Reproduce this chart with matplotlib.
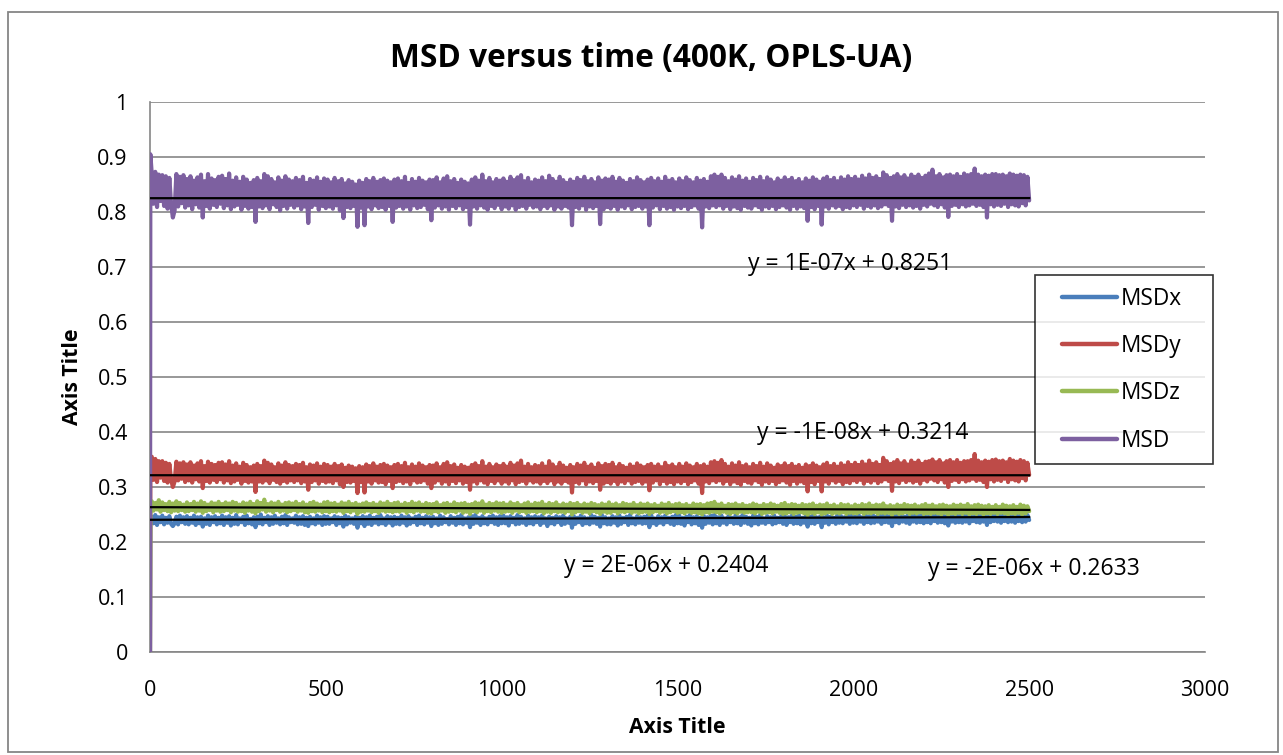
import numpy as np
import matplotlib
matplotlib.use("Agg")
import matplotlib.pyplot as plt
from matplotlib.patches import Rectangle
from matplotlib.lines import Line2D
from matplotlib.legend_handler import HandlerLine2D

plt.rcParams['font.family'] = ['Open Sans', 'DejaVu Sans']

# sampling times: start, first step, then every 5 units up to 2500
time = [0, 1] + list(range(5, 2501, 5))

msd_x = [0.0, 0.245,
    0.246, 0.234, 0.249, 0.231, 0.245, 0.236, 0.248, 0.232, 0.244, 0.235, 0.247, 0.233, 0.229, 0.234, 0.246, 0.232, 0.248, 0.236, 0.245, 0.233,
    0.247, 0.232, 0.244, 0.235, 0.248, 0.231, 0.245, 0.234, 0.246, 0.228, 0.243, 0.233, 0.248, 0.231, 0.245, 0.236, 0.247, 0.232, 0.244, 0.234,
    0.248, 0.231, 0.245, 0.235, 0.247, 0.230, 0.244, 0.233, 0.249, 0.232, 0.243, 0.236, 0.246, 0.231, 0.248, 0.234, 0.242, 0.232, 0.245, 0.227,
    0.246, 0.234, 0.250, 0.232, 0.244, 0.236, 0.247, 0.231, 0.245, 0.233, 0.248, 0.235, 0.243, 0.232, 0.246, 0.234, 0.249, 0.231, 0.245, 0.236,
    0.243, 0.235, 0.248, 0.232, 0.245, 0.233, 0.247, 0.231, 0.244, 0.229, 0.246, 0.234, 0.243, 0.232, 0.248, 0.235, 0.245, 0.231, 0.247, 0.233,
    0.246, 0.233, 0.243, 0.236, 0.247, 0.231, 0.245, 0.234, 0.244, 0.228, 0.248, 0.232, 0.245, 0.235, 0.243, 0.233, 0.246, 0.226, 0.244, 0.234,
    0.247, 0.229, 0.245, 0.233, 0.248, 0.231, 0.244, 0.235, 0.246, 0.232, 0.249, 0.234, 0.243, 0.231, 0.247, 0.235, 0.245, 0.230, 0.246, 0.233,
    0.244, 0.232, 0.248, 0.235, 0.245, 0.230, 0.247, 0.233, 0.243, 0.236, 0.246, 0.231, 0.248, 0.234, 0.244, 0.232, 0.247, 0.235, 0.245, 0.229,
    0.246, 0.234, 0.243, 0.231, 0.248, 0.233, 0.245, 0.236, 0.242, 0.232, 0.247, 0.235, 0.244, 0.231, 0.246, 0.234, 0.249, 0.232, 0.243, 0.235,
    0.245, 0.227, 0.247, 0.233, 0.249, 0.235, 0.244, 0.231, 0.247, 0.234, 0.243, 0.232, 0.246, 0.236, 0.248, 0.233, 0.245, 0.231, 0.247, 0.234,
    0.248, 0.234, 0.245, 0.230, 0.247, 0.236, 0.244, 0.232, 0.249, 0.233, 0.246, 0.235, 0.243, 0.231, 0.248, 0.234, 0.245, 0.232, 0.247, 0.236,
    0.245, 0.231, 0.248, 0.235, 0.243, 0.229, 0.246, 0.234, 0.244, 0.232, 0.247, 0.236, 0.245, 0.231, 0.248, 0.233, 0.243, 0.235, 0.246, 0.226,
    0.247, 0.233, 0.244, 0.236, 0.248, 0.231, 0.245, 0.234, 0.243, 0.232, 0.249, 0.235, 0.246, 0.233, 0.244, 0.228, 0.249, 0.234, 0.245, 0.232,
    0.243, 0.232, 0.247, 0.235, 0.245, 0.230, 0.248, 0.233, 0.244, 0.236, 0.246, 0.231, 0.249, 0.234, 0.243, 0.232, 0.247, 0.235, 0.245, 0.233,
    0.246, 0.234, 0.248, 0.227, 0.249, 0.234, 0.243, 0.231, 0.247, 0.235, 0.245, 0.232, 0.248, 0.236, 0.244, 0.233, 0.246, 0.231, 0.249, 0.234,
    0.248, 0.233, 0.244, 0.230, 0.246, 0.236, 0.249, 0.232, 0.245, 0.234, 0.247, 0.231, 0.244, 0.226, 0.247, 0.233, 0.245, 0.235, 0.248, 0.232,
    0.249, 0.234, 0.245, 0.231, 0.248, 0.235, 0.243, 0.232, 0.247, 0.236, 0.244, 0.233, 0.248, 0.234, 0.245, 0.231, 0.249, 0.235, 0.246, 0.233,
    0.244, 0.230, 0.248, 0.234, 0.246, 0.232, 0.249, 0.235, 0.243, 0.233, 0.247, 0.236, 0.245, 0.232, 0.248, 0.234, 0.244, 0.236, 0.247, 0.233,
    0.247, 0.231, 0.245, 0.236, 0.248, 0.233, 0.246, 0.234, 0.249, 0.232, 0.244, 0.235, 0.247, 0.228, 0.246, 0.234, 0.249, 0.233, 0.245, 0.236,
    0.246, 0.227, 0.245, 0.235, 0.248, 0.232, 0.246, 0.236, 0.244, 0.233, 0.249, 0.235, 0.247, 0.234, 0.245, 0.237, 0.248, 0.233, 0.250, 0.235,
    0.246, 0.234, 0.249, 0.237, 0.245, 0.233, 0.248, 0.236, 0.247, 0.234, 0.250, 0.235, 0.246, 0.237, 0.249, 0.233, 0.251, 0.236, 0.248, 0.235,
    0.247, 0.229, 0.250, 0.236, 0.248, 0.234, 0.251, 0.237, 0.246, 0.235, 0.249, 0.233, 0.248, 0.237, 0.250, 0.235, 0.247, 0.236, 0.251, 0.234,
    0.249, 0.236, 0.247, 0.234, 0.250, 0.238, 0.248, 0.235, 0.251, 0.236, 0.249, 0.234, 0.247, 0.230, 0.250, 0.237, 0.248, 0.235, 0.252, 0.236,
    0.250, 0.235, 0.249, 0.237, 0.251, 0.234, 0.248, 0.238, 0.250, 0.236, 0.252, 0.235, 0.249, 0.237, 0.250, 0.231, 0.251, 0.236, 0.249, 0.238,
    0.252, 0.237, 0.249, 0.235, 0.251, 0.238, 0.250, 0.236, 0.252, 0.237, 0.249, 0.235, 0.251, 0.238, 0.250, 0.236, 0.252, 0.237, 0.249, 0.240]

msd_y = [0.0, 0.348,
    0.355, 0.313, 0.351, 0.309, 0.347, 0.317, 0.347, 0.311, 0.344, 0.308, 0.342, 0.314, 0.300, 0.310, 0.346, 0.312, 0.343, 0.315, 0.345, 0.309,
    0.341, 0.312, 0.345, 0.308, 0.339, 0.314, 0.343, 0.310, 0.347, 0.298, 0.338, 0.311, 0.346, 0.308, 0.342, 0.313, 0.340, 0.309, 0.344, 0.314,
    0.345, 0.308, 0.341, 0.312, 0.347, 0.307, 0.339, 0.310, 0.343, 0.313, 0.337, 0.306, 0.344, 0.311, 0.340, 0.308, 0.336, 0.310, 0.339, 0.291,
    0.342, 0.310, 0.338, 0.308, 0.348, 0.312, 0.344, 0.307, 0.341, 0.313, 0.336, 0.309, 0.343, 0.306, 0.339, 0.311, 0.345, 0.308, 0.340, 0.312,
    0.338, 0.309, 0.342, 0.312, 0.340, 0.307, 0.344, 0.310, 0.336, 0.295, 0.341, 0.309, 0.339, 0.312, 0.343, 0.306, 0.337, 0.311, 0.342, 0.308,
    0.340, 0.310, 0.337, 0.307, 0.342, 0.312, 0.338, 0.305, 0.341, 0.300, 0.335, 0.309, 0.339, 0.308, 0.337, 0.311, 0.334, 0.289, 0.338, 0.309,
    0.336, 0.290, 0.341, 0.310, 0.338, 0.306, 0.343, 0.312, 0.337, 0.308, 0.340, 0.309, 0.342, 0.305, 0.339, 0.311, 0.336, 0.298, 0.340, 0.309,
    0.342, 0.311, 0.338, 0.307, 0.344, 0.310, 0.336, 0.305, 0.341, 0.312, 0.337, 0.308, 0.343, 0.309, 0.339, 0.312, 0.336, 0.306, 0.340, 0.298,
    0.339, 0.308, 0.343, 0.312, 0.336, 0.306, 0.342, 0.310, 0.345, 0.305, 0.338, 0.311, 0.341, 0.307, 0.335, 0.312, 0.340, 0.306, 0.337, 0.309,
    0.335, 0.295, 0.340, 0.310, 0.343, 0.306, 0.338, 0.312, 0.347, 0.308, 0.337, 0.305, 0.342, 0.311, 0.336, 0.307, 0.341, 0.312, 0.338, 0.306,
    0.342, 0.310, 0.337, 0.306, 0.344, 0.312, 0.339, 0.305, 0.343, 0.309, 0.348, 0.311, 0.337, 0.306, 0.342, 0.312, 0.336, 0.308, 0.340, 0.310,
    0.338, 0.306, 0.343, 0.311, 0.337, 0.307, 0.347, 0.312, 0.341, 0.305, 0.336, 0.310, 0.344, 0.306, 0.339, 0.311, 0.335, 0.308, 0.340, 0.290,
    0.336, 0.309, 0.342, 0.306, 0.339, 0.312, 0.344, 0.305, 0.337, 0.310, 0.341, 0.307, 0.335, 0.311, 0.343, 0.295, 0.338, 0.306, 0.342, 0.309,
    0.340, 0.306, 0.344, 0.311, 0.336, 0.305, 0.342, 0.310, 0.338, 0.307, 0.335, 0.312, 0.341, 0.306, 0.337, 0.309, 0.343, 0.311, 0.339, 0.306,
    0.336, 0.310, 0.340, 0.294, 0.342, 0.308, 0.337, 0.312, 0.341, 0.305, 0.336, 0.311, 0.344, 0.306, 0.338, 0.309, 0.341, 0.305, 0.336, 0.310,
    0.342, 0.307, 0.337, 0.311, 0.343, 0.305, 0.339, 0.309, 0.336, 0.312, 0.342, 0.306, 0.338, 0.289, 0.341, 0.310, 0.337, 0.307, 0.345, 0.312,
    0.347, 0.309, 0.344, 0.312, 0.349, 0.306, 0.342, 0.311, 0.337, 0.305, 0.343, 0.310, 0.339, 0.307, 0.345, 0.304, 0.338, 0.311, 0.341, 0.308,
    0.336, 0.306, 0.342, 0.312, 0.338, 0.309, 0.344, 0.304, 0.337, 0.310, 0.343, 0.307, 0.339, 0.311, 0.335, 0.305, 0.341, 0.309, 0.338, 0.312,
    0.343, 0.308, 0.338, 0.304, 0.342, 0.311, 0.337, 0.306, 0.340, 0.310, 0.335, 0.307, 0.341, 0.292, 0.338, 0.309, 0.343, 0.305, 0.339, 0.311,
    0.336, 0.292, 0.341, 0.310, 0.344, 0.306, 0.338, 0.312, 0.342, 0.308, 0.337, 0.311, 0.343, 0.305, 0.339, 0.309, 0.345, 0.307, 0.340, 0.312,
    0.344, 0.309, 0.340, 0.313, 0.346, 0.306, 0.341, 0.311, 0.348, 0.308, 0.342, 0.312, 0.345, 0.307, 0.340, 0.310, 0.353, 0.314, 0.347, 0.311,
    0.342, 0.293, 0.345, 0.310, 0.349, 0.307, 0.343, 0.313, 0.347, 0.309, 0.341, 0.312, 0.348, 0.308, 0.344, 0.311, 0.348, 0.306, 0.342, 0.313,
    0.346, 0.310, 0.347, 0.315, 0.350, 0.312, 0.345, 0.309, 0.349, 0.314, 0.343, 0.308, 0.347, 0.300, 0.349, 0.311, 0.345, 0.313, 0.349, 0.309,
    0.344, 0.314, 0.347, 0.310, 0.347, 0.312, 0.349, 0.315, 0.360, 0.311, 0.348, 0.313, 0.345, 0.309, 0.348, 0.300, 0.346, 0.314, 0.349, 0.310,
    0.350, 0.313, 0.347, 0.311, 0.348, 0.315, 0.345, 0.309, 0.351, 0.314, 0.348, 0.312, 0.346, 0.310, 0.349, 0.316, 0.347, 0.312, 0.344, 0.322]

msd_z = [0.0, 0.270,
    0.274, 0.257, 0.271, 0.259, 0.276, 0.255, 0.272, 0.258, 0.269, 0.256, 0.273, 0.254, 0.270, 0.257, 0.274, 0.256, 0.271, 0.258, 0.268, 0.255,
    0.272, 0.256, 0.269, 0.258, 0.273, 0.255, 0.270, 0.257, 0.274, 0.253, 0.271, 0.256, 0.268, 0.258, 0.272, 0.254, 0.270, 0.257, 0.273, 0.255,
    0.269, 0.256, 0.272, 0.258, 0.270, 0.254, 0.273, 0.257, 0.271, 0.255, 0.268, 0.256, 0.272, 0.253, 0.270, 0.257, 0.273, 0.255, 0.269, 0.252,
    0.274, 0.256, 0.271, 0.259, 0.277, 0.255, 0.269, 0.257, 0.272, 0.254, 0.270, 0.258, 0.273, 0.255, 0.268, 0.257, 0.271, 0.254, 0.272, 0.256,
    0.270, 0.258, 0.273, 0.255, 0.269, 0.257, 0.272, 0.254, 0.268, 0.253, 0.271, 0.256, 0.273, 0.255, 0.270, 0.257, 0.268, 0.254, 0.272, 0.256,
    0.273, 0.254, 0.270, 0.256, 0.271, 0.255, 0.268, 0.257, 0.272, 0.253, 0.270, 0.256, 0.273, 0.254, 0.269, 0.257, 0.271, 0.251, 0.268, 0.255,
    0.270, 0.255, 0.272, 0.257, 0.269, 0.254, 0.271, 0.256, 0.268, 0.253, 0.272, 0.257, 0.270, 0.255, 0.273, 0.256, 0.269, 0.254, 0.271, 0.256,
    0.272, 0.255, 0.268, 0.257, 0.271, 0.253, 0.269, 0.256, 0.273, 0.254, 0.270, 0.257, 0.272, 0.255, 0.268, 0.256, 0.271, 0.253, 0.269, 0.252,
    0.269, 0.256, 0.272, 0.254, 0.267, 0.257, 0.270, 0.253, 0.271, 0.255, 0.268, 0.256, 0.272, 0.254, 0.269, 0.257, 0.270, 0.253, 0.271, 0.255,
    0.268, 0.251, 0.269, 0.256, 0.272, 0.254, 0.270, 0.257, 0.274, 0.253, 0.268, 0.256, 0.271, 0.254, 0.269, 0.257, 0.272, 0.255, 0.270, 0.253,
    0.271, 0.255, 0.268, 0.256, 0.272, 0.253, 0.269, 0.257, 0.271, 0.254, 0.267, 0.256, 0.270, 0.253, 0.272, 0.255, 0.268, 0.256, 0.271, 0.254,
    0.270, 0.256, 0.273, 0.252, 0.268, 0.255, 0.271, 0.253, 0.269, 0.256, 0.272, 0.254, 0.267, 0.255, 0.270, 0.253, 0.268, 0.256, 0.271, 0.250,
    0.269, 0.254, 0.271, 0.256, 0.267, 0.253, 0.270, 0.255, 0.268, 0.252, 0.271, 0.256, 0.269, 0.254, 0.267, 0.251, 0.270, 0.255, 0.268, 0.253,
    0.272, 0.253, 0.268, 0.256, 0.270, 0.252, 0.267, 0.255, 0.271, 0.254, 0.269, 0.256, 0.268, 0.253, 0.271, 0.255, 0.267, 0.252, 0.270, 0.254,
    0.268, 0.255, 0.270, 0.251, 0.267, 0.254, 0.269, 0.256, 0.266, 0.253, 0.270, 0.255, 0.268, 0.252, 0.271, 0.254, 0.267, 0.256, 0.269, 0.253,
    0.270, 0.254, 0.267, 0.252, 0.269, 0.255, 0.266, 0.253, 0.270, 0.254, 0.268, 0.252, 0.269, 0.250, 0.267, 0.254, 0.270, 0.253, 0.271, 0.255,
    0.273, 0.254, 0.268, 0.252, 0.270, 0.255, 0.266, 0.253, 0.269, 0.251, 0.268, 0.254, 0.270, 0.252, 0.267, 0.255, 0.269, 0.253, 0.266, 0.254,
    0.267, 0.254, 0.270, 0.252, 0.268, 0.255, 0.266, 0.251, 0.269, 0.253, 0.267, 0.254, 0.270, 0.252, 0.268, 0.255, 0.266, 0.253, 0.269, 0.251,
    0.271, 0.252, 0.267, 0.254, 0.269, 0.251, 0.268, 0.253, 0.266, 0.254, 0.269, 0.252, 0.267, 0.249, 0.268, 0.253, 0.270, 0.251, 0.266, 0.254,
    0.268, 0.250, 0.267, 0.252, 0.270, 0.254, 0.266, 0.251, 0.268, 0.253, 0.265, 0.252, 0.269, 0.254, 0.267, 0.251, 0.268, 0.253, 0.265, 0.252,
    0.268, 0.252, 0.266, 0.254, 0.269, 0.251, 0.267, 0.253, 0.270, 0.252, 0.266, 0.254, 0.268, 0.251, 0.267, 0.253, 0.270, 0.252, 0.265, 0.253,
    0.267, 0.249, 0.265, 0.253, 0.268, 0.251, 0.266, 0.252, 0.269, 0.254, 0.267, 0.251, 0.266, 0.253, 0.268, 0.252, 0.265, 0.254, 0.267, 0.251,
    0.269, 0.252, 0.266, 0.251, 0.268, 0.253, 0.265, 0.252, 0.267, 0.250, 0.268, 0.253, 0.266, 0.249, 0.265, 0.252, 0.268, 0.251, 0.266, 0.253,
    0.268, 0.251, 0.266, 0.253, 0.269, 0.250, 0.265, 0.252, 0.267, 0.251, 0.268, 0.253, 0.266, 0.250, 0.265, 0.252, 0.267, 0.251, 0.264, 0.253,
    0.267, 0.251, 0.264, 0.253, 0.268, 0.252, 0.266, 0.250, 0.265, 0.252, 0.267, 0.251, 0.264, 0.253, 0.268, 0.250, 0.266, 0.252, 0.265, 0.256]

msd = [0.0, 0.905,
    0.869, 0.815, 0.873, 0.809, 0.868, 0.820, 0.867, 0.811, 0.865, 0.806, 0.862, 0.814, 0.790, 0.803, 0.869, 0.810, 0.864, 0.816, 0.867, 0.808,
    0.860, 0.812, 0.865, 0.805, 0.857, 0.814, 0.863, 0.808, 0.868, 0.790, 0.856, 0.811, 0.869, 0.806, 0.861, 0.813, 0.858, 0.809, 0.864, 0.815,
    0.866, 0.807, 0.860, 0.812, 0.870, 0.805, 0.857, 0.810, 0.863, 0.813, 0.855, 0.804, 0.864, 0.811, 0.859, 0.806, 0.853, 0.809, 0.858, 0.782,
    0.862, 0.810, 0.856, 0.807, 0.869, 0.812, 0.865, 0.805, 0.860, 0.814, 0.854, 0.809, 0.863, 0.803, 0.857, 0.811, 0.865, 0.806, 0.859, 0.813,
    0.856, 0.808, 0.862, 0.812, 0.858, 0.805, 0.864, 0.810, 0.853, 0.780, 0.860, 0.809, 0.857, 0.813, 0.863, 0.804, 0.855, 0.811, 0.861, 0.807,
    0.859, 0.810, 0.854, 0.806, 0.862, 0.812, 0.856, 0.803, 0.860, 0.789, 0.852, 0.809, 0.858, 0.807, 0.855, 0.811, 0.850, 0.773, 0.857, 0.808,
    0.853, 0.776, 0.860, 0.810, 0.856, 0.805, 0.862, 0.812, 0.855, 0.807, 0.858, 0.809, 0.861, 0.804, 0.857, 0.811, 0.854, 0.782, 0.859, 0.808,
    0.861, 0.811, 0.856, 0.806, 0.864, 0.810, 0.853, 0.804, 0.860, 0.812, 0.855, 0.807, 0.862, 0.809, 0.857, 0.813, 0.854, 0.805, 0.859, 0.785,
    0.858, 0.808, 0.863, 0.812, 0.854, 0.806, 0.861, 0.810, 0.865, 0.804, 0.856, 0.811, 0.860, 0.807, 0.853, 0.812, 0.859, 0.805, 0.855, 0.809,
    0.852, 0.777, 0.859, 0.810, 0.863, 0.806, 0.857, 0.812, 0.868, 0.808, 0.856, 0.804, 0.862, 0.811, 0.854, 0.807, 0.860, 0.813, 0.857, 0.805,
    0.861, 0.810, 0.855, 0.806, 0.864, 0.812, 0.858, 0.804, 0.863, 0.809, 0.867, 0.811, 0.856, 0.806, 0.862, 0.813, 0.854, 0.808, 0.859, 0.810,
    0.857, 0.805, 0.863, 0.811, 0.856, 0.807, 0.866, 0.812, 0.860, 0.804, 0.855, 0.810, 0.864, 0.806, 0.858, 0.811, 0.853, 0.808, 0.859, 0.776,
    0.855, 0.809, 0.862, 0.806, 0.858, 0.812, 0.864, 0.804, 0.856, 0.810, 0.860, 0.807, 0.854, 0.811, 0.863, 0.778, 0.857, 0.805, 0.861, 0.809,
    0.859, 0.806, 0.864, 0.811, 0.855, 0.804, 0.862, 0.810, 0.857, 0.807, 0.853, 0.812, 0.860, 0.805, 0.856, 0.809, 0.863, 0.811, 0.858, 0.806,
    0.854, 0.810, 0.859, 0.776, 0.862, 0.808, 0.856, 0.812, 0.861, 0.805, 0.855, 0.811, 0.864, 0.806, 0.857, 0.809, 0.860, 0.804, 0.854, 0.810,
    0.861, 0.807, 0.856, 0.811, 0.863, 0.805, 0.858, 0.809, 0.854, 0.812, 0.862, 0.806, 0.857, 0.772, 0.860, 0.810, 0.855, 0.807, 0.865, 0.812,
    0.868, 0.809, 0.864, 0.812, 0.868, 0.806, 0.862, 0.811, 0.856, 0.805, 0.863, 0.810, 0.859, 0.807, 0.865, 0.804, 0.857, 0.811, 0.861, 0.808,
    0.855, 0.806, 0.862, 0.812, 0.858, 0.809, 0.864, 0.804, 0.856, 0.810, 0.863, 0.807, 0.859, 0.811, 0.854, 0.805, 0.861, 0.809, 0.857, 0.812,
    0.863, 0.808, 0.858, 0.804, 0.862, 0.811, 0.856, 0.806, 0.860, 0.810, 0.854, 0.807, 0.861, 0.784, 0.857, 0.809, 0.863, 0.805, 0.859, 0.811,
    0.855, 0.777, 0.861, 0.810, 0.864, 0.806, 0.858, 0.812, 0.862, 0.808, 0.856, 0.811, 0.863, 0.805, 0.859, 0.809, 0.865, 0.807, 0.860, 0.812,
    0.864, 0.809, 0.859, 0.813, 0.866, 0.806, 0.861, 0.811, 0.868, 0.808, 0.862, 0.812, 0.865, 0.807, 0.860, 0.810, 0.872, 0.814, 0.867, 0.811,
    0.862, 0.784, 0.865, 0.810, 0.869, 0.807, 0.863, 0.813, 0.867, 0.809, 0.861, 0.812, 0.868, 0.808, 0.864, 0.811, 0.868, 0.806, 0.862, 0.813,
    0.866, 0.810, 0.870, 0.815, 0.877, 0.812, 0.865, 0.809, 0.869, 0.814, 0.863, 0.808, 0.867, 0.791, 0.868, 0.811, 0.865, 0.813, 0.869, 0.809,
    0.864, 0.814, 0.870, 0.810, 0.867, 0.812, 0.869, 0.815, 0.879, 0.811, 0.868, 0.813, 0.865, 0.809, 0.868, 0.790, 0.866, 0.814, 0.869, 0.810,
    0.869, 0.813, 0.867, 0.811, 0.868, 0.815, 0.865, 0.809, 0.870, 0.814, 0.868, 0.812, 0.866, 0.810, 0.868, 0.816, 0.867, 0.812, 0.864, 0.821]

series_names = ["MSDx", "MSDy", "MSDz", "MSD"]
series_colors = ["#4A7EBB", "#BE4B48", "#98B954", "#7D60A0"]

# linear trend lines (slope, intercept) and where their equations sit
trend_slope = [2e-06, -1e-08, -2e-06, 1e-07]
trend_intercept = [0.2404, 0.3214, 0.2633, 0.8251]
trend_labels = ["y = 2E-06x + 0.2404", "y = -1E-08x + 0.3214",
                "y = -2E-06x + 0.2633", "y = 1E-07x + 0.8251"]
label_pos = [(1469, 0.157), (2028, 0.398), (2514, 0.151), (1990, 0.7055)]

x_ticks = [0, 500, 1000, 1500, 2000, 2500, 3000]
y_ticks = [0, 0.1, 0.2, 0.3, 0.4, 0.5, 0.6, 0.7, 0.8, 0.9, 1]
y_tick_labels = ["0", "0.1", "0.2", "0.3", "0.4", "0.5", "0.6", "0.7", "0.8", "0.9", "1"]

for s in (msd_x, msd_y, msd_z, msd):
    assert len(s) == len(time), len(s)

W, H = 1283, 755
fig = plt.figure(figsize=(W / 100, H / 100), dpi=100)
fig.patches.append(Rectangle((8 / W, 1 - 752 / H), 1270 / W, 740 / H,
                             transform=fig.transFigure, fill=False,
                             edgecolor="#868686", linewidth=1.3))

ax = fig.add_axes([150 / W, 1 - 652 / H, 1055 / W, 550 / H])
ax.set_xlim(0, 3000)
ax.set_ylim(0, 1)

for name, col, vals in zip(series_names, series_colors, (msd_x, msd_y, msd_z, msd)):
    ax.plot(time, vals, color=col, linewidth=3.0, label=name,
            solid_joinstyle="round", solid_capstyle="round", zorder=3)

tt = np.array([0, 2500])
for m, b, txt, (lx, ly) in zip(trend_slope, trend_intercept, trend_labels, label_pos):
    ax.plot(tt, m * tt + b, color="black", linewidth=1.6, zorder=4)
    ax.text(lx, ly, txt, ha="center", va="center", fontsize=16.5, zorder=5)

ax.set_xticks(x_ticks)
ax.set_xticklabels([str(v) for v in x_ticks])
ax.set_yticks(y_ticks)
ax.set_yticklabels(y_tick_labels)
ax.tick_params(axis="both", length=0, labelsize=15.5)
ax.tick_params(axis="x", pad=20)
ax.tick_params(axis="y", pad=16)
ax.grid(axis="y", color="#868686", linewidth=1.2, zorder=0)
ax.set_axisbelow(True)
for side in ("top", "right"):
    ax.spines[side].set_visible(False)
for side in ("left", "bottom"):
    ax.spines[side].set_color("#868686")
    ax.spines[side].set_linewidth(1.2)

ax.set_xlabel("Axis Title", fontsize=15.3, fontweight="bold", labelpad=12)
ax.set_ylabel("Axis Title", fontsize=15.3, fontweight="bold", labelpad=10)
fig.text(651 / W, 1 - 58 / H, "MSD versus time (400K, OPLS-UA)",
         ha="center", va="center", fontsize=22.8, fontweight="bold")

# legend box spans x 1035..1213 px, y 275..462 px
fs_leg = 16.3
leg_x0 = (1035 - 150) / 1055
leg_w = (1213 - 1035) / 1055
leg_y0 = (652 - 462) / 550
leg_h = (462 - 275) / 550
leg = ax.legend(loc="upper left", bbox_to_anchor=(leg_x0, leg_y0, leg_w, leg_h),
                mode="expand", frameon=True, fancybox=False, edgecolor="black",
                fontsize=fs_leg, handlelength=3.1, labelspacing=1.03, borderpad=0.52,
                handletextpad=0.18, borderaxespad=0,
                handler_map={Line2D: HandlerLine2D(xpad=0.66)})
leg.get_frame().set_linewidth(1.2)
for line in leg.get_lines():
    line.set_linewidth(3.2)
    line.set_solid_capstyle("round")

fig.savefig("out.png", dpi=100)
